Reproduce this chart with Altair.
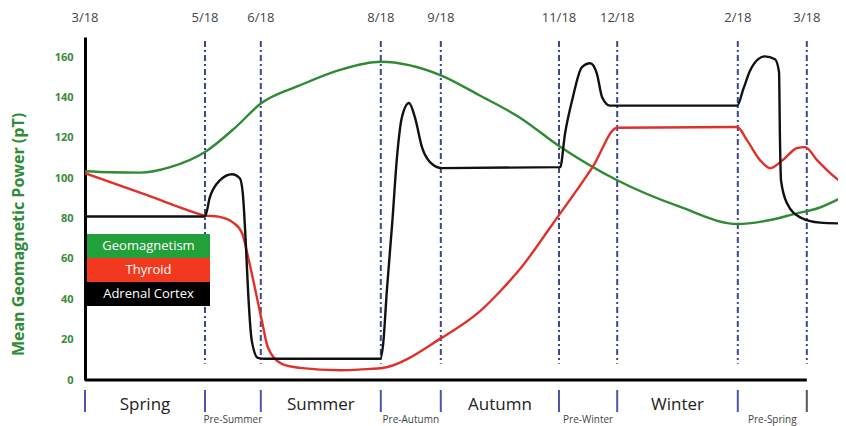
import altair as alt
import pandas as pd

# Boundaries (months after 3/18) and their date labels
boundary_x = [0.0, 2.0, 2.93, 4.93, 5.93, 7.9, 8.87, 10.88, 12.03]
boundary_labels = ["3/18", "5/18", "6/18", "8/18", "9/18", "11/18", "12/18", "2/18", "3/18"]
season_names = ["Spring", "Summer", "Autumn", "Winter"]
pre_names = ["Pre-Summer", "Pre-Autumn", "Pre-Winter", "Pre-Spring"]
y_ticks = [0, 20, 40, 60, 80, 100, 120, 140, 160]

series_names = ["Geomagnetism", "Thyroid", "Adrenal Cortex"]
series_colors = ["#2e8b34", "#e0302a", "#111111"]
legend_colors = ["#22a03a", "#f2391f", "#000000"]

geo_x = [0.0, 0.42, 0.92, 1.42, 2.0, 2.5, 2.93, 3.58, 4.25, 4.93, 5.93, 6.58, 7.25,
         7.9, 8.87, 9.9, 10.88, 11.3, 11.87, 12.2, 12.68]
geo_y = [103.5, 103, 102.8, 105.5, 113, 125, 137, 146, 153.7, 157.7, 151, 141, 130,
         116, 99, 86, 77.3, 78.6, 82.6, 85, 91.5]

thy_x = [0.0, 1.0, 1.83, 2.0, 2.22, 2.47, 2.62, 2.72, 2.83, 2.95, 3.05, 3.28, 3.58,
         4.25, 4.75, 4.93, 5.95, 6.58, 6.92, 7.25, 7.8, 8.47, 8.87, 10.87, 11.03,
         11.25, 11.42, 11.63, 11.87, 12.0, 12.2, 12.42, 12.67]
thy_y = [102.5, 92, 83, 81.5, 81, 78, 72.6, 60.7, 45.8, 29, 16, 8, 6,
         4.8, 5.5, 5.8, 21, 34, 44, 55, 77.6, 106, 125, 125.4, 119,
         109, 105, 109, 115, 115.4, 109, 102.5, 96.5]

adr_x = [0.0, 2.0, 2.08, 2.25, 2.45, 2.58, 2.63, 2.68, 2.72, 2.78, 2.88, 3.0,
         4.92, 4.97, 5.03, 5.12, 5.2, 5.28, 5.4, 5.5, 5.62, 5.75, 5.95,
         7.92, 8.0, 8.13, 8.28, 8.42, 8.53, 8.62, 8.75, 8.92,
         10.87, 10.97, 11.08, 11.22, 11.33, 11.5, 11.567, 11.583, 11.6, 11.7,
         11.92, 12.25, 12.63]
adr_y = [81, 81, 90.5, 99, 102, 100, 92.5, 67.7, 42.8, 19.4, 11, 10.5,
         10.5, 18, 44, 77.6, 110.5, 130, 137.3, 130, 115, 108, 105,
         105.5, 122, 140, 155, 157, 152, 140, 136, 136,
         136, 144, 153, 159, 160.4, 159, 152.7, 119, 99, 87.6,
         80.6, 78, 77.6]

# ---- tables ----
rows = []
for name, xs, ys in [(series_names[0], geo_x, geo_y),
                     (series_names[1], thy_x, thy_y),
                     (series_names[2], adr_x, adr_y)]:
    for i, (a, b) in enumerate(zip(xs, ys)):
        rows.append({"series": name, "x": a, "value": b, "i": i})
lines_df = pd.DataFrame(rows)

bound_df = pd.DataFrame({"x": boundary_x, "label": boundary_labels,
                         "idx": list(range(len(boundary_x)))})
season_df = pd.DataFrame({
    "name": season_names,
    "x": [(boundary_x[2 * k] + boundary_x[2 * k + 1]) / 2 for k in range(4)],
})
pre_df = pd.DataFrame({
    "name": pre_names,
    "x": [(boundary_x[2 * k + 1] + boundary_x[2 * k + 2]) / 2 for k in range(4)],
})
legend_df = pd.DataFrame({"series": series_names, "color": legend_colors,
                          "k": [0, 1, 2]})
axis_df = pd.DataFrame({"x0": [boundary_x[0]], "x1": [boundary_x[-1]]})

FONT = "Open Sans"
PLOT_W = 753
PLOT_H = 343
Y_MAX = 170
PX_PER_X = 60.0
x_scale = alt.Scale(domain=[0, PLOT_W / PX_PER_X], nice=False, zero=False)
y_scale = alt.Scale(domain=[0, Y_MAX], nice=False)
Y_TITLE = "Mean Geomagnetic Power (pT)"
y_axis = alt.Axis(
    values=y_ticks, title=Y_TITLE,
    titleColor="#2e8b34", titleFontSize=16, titleFontWeight="bold", titleFont=FONT,
    titleX=-67, titleY=197, titleAngle=270, titleBaseline="middle", titleAlign="center",
    labelColor="#3a8a3a", labelFontSize=11, labelFontWeight="bold", labelFont=FONT,
    labelPadding=12, ticks=False, tickSize=0, grid=False,
    domainColor="#000000", domainWidth=3)


def X(f):
    return alt.X(f, scale=x_scale, axis=None)


def Y(f):
    return alt.Y(f, scale=y_scale, axis=y_axis, title=Y_TITLE)


vlines = alt.Chart(bound_df).transform_filter("datum.idx > 0").transform_calculate(
    value="168", bot="8"
).mark_rule(
    color="#3b4890", strokeWidth=2, strokeDash=[6, 3, 2, 3]
).encode(
    x=X("x:Q"),
    y=Y("value:Q"),
    y2="bot:Q",
)

lines = alt.Chart(lines_df).mark_line(
    interpolate="monotone", clip=True, strokeWidth=2.4
).encode(
    x=X("x:Q"),
    y=Y("value:Q"),
    color=alt.Color("series:N", scale=alt.Scale(domain=series_names, range=series_colors),
                    legend=None),
    order="i:Q",
)

xaxis_rule = alt.Chart(axis_df).transform_calculate(value="0").mark_rule(
    color="#000000", strokeWidth=3
).encode(
    x=X("x0:Q"),
    x2="x1:Q",
    y=Y("value:Q"),
)

season_ticks = alt.Chart(bound_df).mark_rule(strokeWidth=2).encode(
    x=X("x:Q"),
    y=alt.value(353),
    y2=alt.value(375),
    color=alt.condition("datum.idx == 8", alt.value("#555555"), alt.value("#4a56b0")),
)

date_text = alt.Chart(bound_df).mark_text(
    fontSize=13, color="#444444", font=FONT, baseline="middle"
).encode(
    x=X("x:Q"),
    y=alt.value(-19),
    text="label:N",
)

season_text = alt.Chart(season_df).mark_text(
    fontSize=17, color="#222222", font=FONT, baseline="middle"
).encode(
    x=X("x:Q"),
    y=alt.value(368),
    text="name:N",
)

pre_text = alt.Chart(pre_df).mark_text(
    fontSize=10, color="#444444", font=FONT, baseline="middle"
).encode(
    x=X("x:Q"),
    y=alt.value(383),
    text="name:N",
)

# legend box, positions converted from pixels to data units
row_top = 197
row_h = 24
lx0, lx1 = 2 / PX_PER_X, 125 / PX_PER_X
to_val = f"({PLOT_H} - ({row_top} + {row_h} * datum.k)) / {PLOT_H} * {Y_MAX}"
to_val2 = f"({PLOT_H} - ({row_top} + {row_h} * (datum.k + 1))) / {PLOT_H} * {Y_MAX}"
to_mid = f"({PLOT_H} - ({row_top} + {row_h} * (datum.k + 0.5))) / {PLOT_H} * {Y_MAX}"
legend_base = alt.Chart(legend_df).transform_calculate(
    lx0=str(lx0), lx1=str(lx1), lxm=str((lx0 + lx1) / 2),
    value=to_val, ly1=to_val2, lym=to_mid,
)
legend_rect = legend_base.mark_rect().encode(
    x=X("lx0:Q"), x2="lx1:Q",
    y=Y("value:Q"), y2="ly1:Q",
    color=alt.Color("color:N", scale=None),
)
legend_text = legend_base.transform_calculate(value="datum.lym").mark_text(
    color="white", fontSize=13, font=FONT, baseline="middle", align="center"
).encode(
    x=X("lxm:Q"), y=Y("value:Q"),
    text="series:N",
)

chart = alt.layer(
    vlines, lines, xaxis_rule, season_ticks, date_text, season_text, pre_text,
    legend_rect, legend_text
).properties(
    width=PLOT_W, height=PLOT_H,
    autosize=alt.AutoSizeParams(type="none"),
    padding={"left": 77, "top": 29, "right": 0, "bottom": 46},
    background="white",
).configure_view(stroke=None)

chart.save("out.html", embed_options={"renderer": "svg", "actions": False})
